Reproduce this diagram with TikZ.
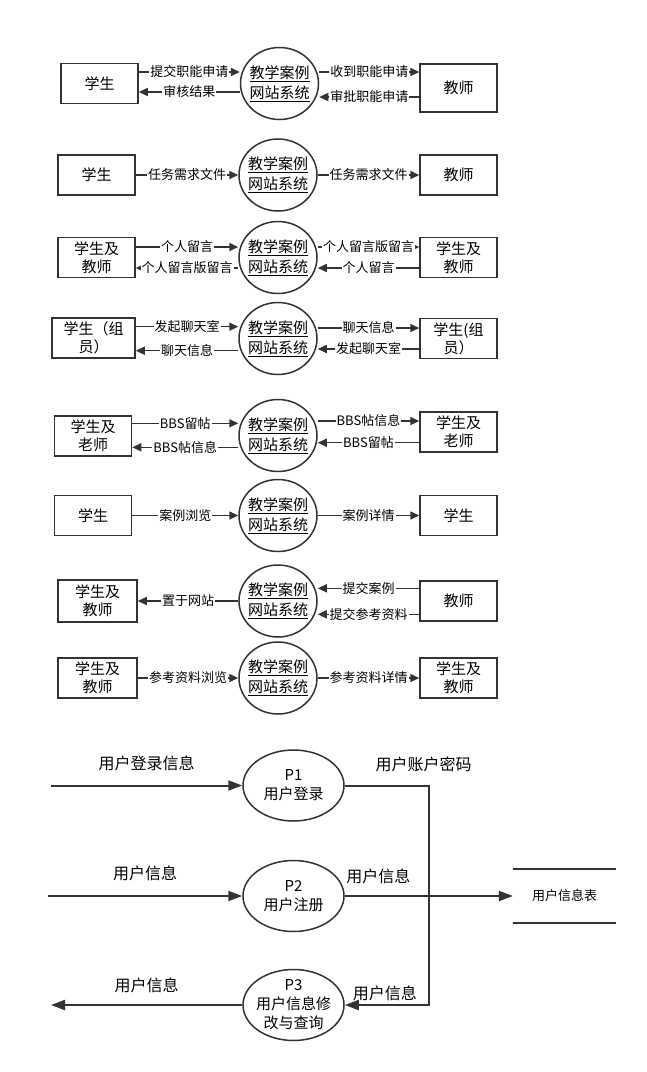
\documentclass[tikz,border=0pt]{standalone}
\usepackage{fontspec}
\setmainfont{Noto Sans CJK SC}
\usetikzlibrary{shapes.geometric, arrows.meta, positioning}
\newcommand{\fsz}[2]{\fontsize{#1}{#2}\selectfont}
\newcommand{\sys}{\underline{教学案例}\\\underline{网站系统}}

\begin{document}
\begin{tikzpicture}[x=1pt, y=-1pt,
    box/.style={draw=black!80, line width=1.5pt, minimum width=77pt, minimum height=40pt, align=center, inner sep=1pt, font=\fsz{15}{18}},
    proc/.style={ellipse, draw=black!80, line width=1.5pt, minimum width=78pt, minimum height=72pt, inner xsep=-4pt, inner ysep=0pt, align=center, font=\fsz{15}{20}},
    pbig/.style={ellipse, draw=black!80, line width=1.5pt, minimum width=101pt, minimum height=71pt, inner xsep=-4pt, inner ysep=-4pt, align=center, font=\fsz{15}{19}},
    store/.style={minimum width=103pt, minimum height=53pt, inner sep=0pt, font=\fsz{13}{15}},
    lbl/.style={fill=white, inner sep=1pt, font=\fsz{13}{15}},
    blbl/.style={inner sep=1pt, font=\fsz{16}{18}},
    flow/.style={-{Triangle[length=9pt,width=8pt]}, draw=black!80, line width=1.5pt},
    bigflow/.style={-{Triangle[length=14pt,width=10pt]}, draw=black!80, line width=2pt}]
    \useasboundingbox (0,0) rectangle (647,1072);

    % application rows
    \node[box]  (L1) at (99.5,83.5) {学生};
    \node[proc] (C1) at (279.5,83.5) {\sys};
    \node[box, minimum height=48pt] (R1) at (458.5,88) {教师};

    \node[box]  (L2) at (96.5,175) {学生};
    \node[proc] (C2) at (278,175) {\sys};
    \node[box]  (R2) at (458.5,175) {教师};

    \node[box]  (L3) at (96.5,257.5) {学生及\\教师};
    \node[proc] (C3) at (278,257.5) {\sys};
    \node[box]  (R3) at (458.5,257.5) {学生及\\教师};

    \node[box, minimum width=83pt] (L4) at (93.5,338) {学生（组\\员）};
    \node[proc] (C4) at (278,338.5) {\sys};
    \node[box]  (R4) at (458.5,338.5) {学生(组\\员）};

    \node[box]  (L5) at (93,436) {学生及\\老师};
    \node[proc] (C5) at (278,435.5) {\sys};
    \node[box]  (R5) at (458.5,432) {学生及\\老师};

    \node[box]  (L6) at (93,515.5) {学生};
    \node[proc] (C6) at (278,515.5) {\sys};
    \node[box]  (R6) at (458.5,515.5) {学生};

    \node[box, minimum width=79pt, minimum height=42pt] (L7) at (97.5,601) {学生及\\教师};
    \node[proc] (C7) at (278,601) {\sys};
    \node[box]  (R7) at (458.5,601) {教师};

    \node[box, minimum width=79pt] (L8) at (97.5,678) {学生及\\教师};
    \node[proc] (C8) at (278,678) {\sys};
    \node[box]  (R8) at (458.5,678) {学生及\\教师};

    % flows of the rows
    \draw[flow] ([yshift=11.5pt]L1.east) -- ([yshift=11.5pt]L1.east -| C1.west) node[lbl,midway]{提交职能申请};
    \draw[flow] ([yshift=-8.5pt]L1.east -| C1.west) -- ([yshift=-8.5pt]L1.east) node[lbl,midway]{审核结果};
    \draw[flow] ([yshift=16pt]R1.west -| C1.east) -- ([yshift=16pt]R1.west) node[lbl,midway]{收到职能申请};
    \draw[flow] ([yshift=-9pt]R1.west) -- ([yshift=-9pt]R1.west -| C1.east) node[lbl,midway]{审批职能申请};

    \draw[flow] (L2) -- (C2) node[lbl,midway]{任务需求文件};
    \draw[flow] (C2) -- (R2) node[lbl,midway]{任务需求文件};

    \draw[flow] ([yshift=10.5pt]L3.east) -- ([yshift=10.5pt]L3.east -| C3.west) node[lbl,midway]{个人留言};
    \draw[flow] ([yshift=-10.5pt]L3.east -| C3.west) -- ([yshift=-10.5pt]L3.east) node[lbl,midway]{个人留言版留言};
    \draw[flow] ([yshift=10.5pt]R3.west -| C3.east) -- ([yshift=10.5pt]R3.west) node[lbl,midway]{个人留言版留言};
    \draw[flow] ([yshift=-10.5pt]R3.west) -- ([yshift=-10.5pt]R3.west -| C3.east) node[lbl,midway]{个人留言};

    \draw[flow] ([yshift=11.3pt]L4.east) -- ([yshift=11.3pt]L4.east -| C4.west) node[lbl,midway]{发起聊天室};
    \draw[flow] ([yshift=-12.7pt]L4.east -| C4.west) -- ([yshift=-12.7pt]L4.east) node[lbl,midway]{聊天信息};
    \draw[flow] ([yshift=10.5pt]R4.west -| C4.east) -- ([yshift=10.5pt]R4.west) node[lbl,midway]{聊天信息};
    \draw[flow] ([yshift=-10.5pt]R4.west) -- ([yshift=-10.5pt]R4.west -| C4.east) node[lbl,midway]{发起聊天室};

    \draw[flow] ([yshift=12.7pt]L5.east) -- ([yshift=12.7pt]L5.east -| C5.west) node[lbl,midway]{BBS留帖};
    \draw[flow] ([yshift=-11.3pt]L5.east -| C5.west) -- ([yshift=-11.3pt]L5.east) node[lbl,midway]{BBS帖信息};
    \draw[flow] ([yshift=11pt]R5.west -| C5.east) -- ([yshift=11pt]R5.west) node[lbl,midway]{BBS帖信息};
    \draw[flow] ([yshift=-10.7pt]R5.west) -- ([yshift=-10.7pt]R5.west -| C5.east) node[lbl,midway]{BBS留帖};

    \draw[flow] (L6) -- (C6) node[lbl,midway]{案例浏览};
    \draw[flow] (C6) -- (R6) node[lbl,midway]{案例详情};

    \draw[flow] (C7) -- (L7) node[lbl,midway]{置于网站};
    \draw[flow] ([yshift=12.7pt]R7.west) -- ([yshift=12.7pt]R7.west -| C7.east) node[lbl,midway]{提交案例};
    \draw[flow] ([yshift=-13.3pt]R7.west) -- ([yshift=-13.3pt]R7.west -| C7.east) node[lbl,midway]{提交参考资料};

    \draw[flow] (L8) -- (C8) node[lbl,midway]{参考资料浏览};
    \draw[flow] (C8) -- (R8) node[lbl,midway]{参考资料详情};

    % user data flow
    \node[pbig] (P1) at (293.5,785.5) {P1\\用户登录};
    \node[pbig] (P2) at (293.5,896) {P2\\用户注册};
    \node[pbig] (P3) at (293.5,1005) {P3\\用户信息修\\改与查询};
    \node[store] (T) at (564.5,896) {用户信息表};
    \draw[draw=black!80, line width=2pt] (T.north west) -- (T.north east) (T.south west) -- (T.south east);

    \coordinate (in1) at (51,785.5);
    \coordinate (in2) at (48,896);
    \coordinate (out3) at (51,1005);
    \coordinate (j1) at (428.5,785.5);

    \draw[bigflow] (in1) -- (P1) node[blbl,midway,yshift=22pt]{用户登录信息};
    \draw[bigflow] (in2) -- (P2) node[blbl,midway,yshift=23pt]{用户信息};
    \draw[bigflow] (P3) -- (out3) node[blbl,midway,yshift=20pt]{用户信息};
    \draw[bigflow] (P1) -- (j1) node[blbl,pos=1,xshift=-5pt,yshift=21pt]{用户账户密码}
        |- (P3) node[blbl,pos=0.76,yshift=12pt]{用户信息};
    \draw[bigflow] (P2) -- (T) node[blbl,pos=0.2,yshift=20pt]{用户信息};
\end{tikzpicture}
\end{document}
